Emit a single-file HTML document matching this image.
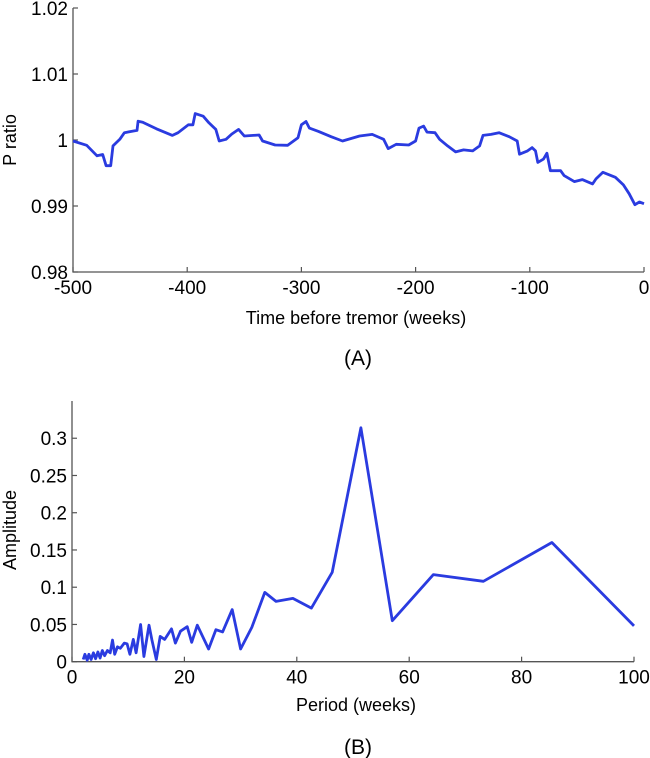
<!DOCTYPE html>
<html><head><meta charset="utf-8"><style>
body{margin:0;background:#fff;}
svg{display:block;font-family:"Liberation Sans",Arial,sans-serif;}
</style></head><body>
<svg id="fig" width="650" height="758" viewBox="0 0 650 758">
<g id="chartA"></g>
<g id="chartB"></g>
<text x="356" y="324" font-size="18" text-anchor="middle">Time before tremor (weeks)</text>
<text x="358" y="365" font-size="21" text-anchor="middle">(A)</text>
<text transform="translate(16,140) rotate(-90)" font-size="18" text-anchor="middle">P ratio</text>
<text x="356" y="711" font-size="18" text-anchor="middle">Period (weeks)</text>
<text x="358" y="754" font-size="21" text-anchor="middle">(B)</text>
<text transform="translate(16,530) rotate(-90)" font-size="18" text-anchor="middle">Amplitude</text>
</svg>
<script>
const weeksA=[-500,-488,-479,-474,-471,-467,-465,-459,-455,-444,-443,-439,-427,-413,-408,-399,-395,-393,-386,-381,-375,-372,-366,-361,-355,-350,-337,-334,-323,-312,-303,-300,-296,-293,-285,-274,-264,-249,-238,-228,-224,-217,-206,-200,-197,-193,-190,-183,-179,-172,-165,-158,-150,-144,-141,-134,-127,-118,-111,-109,-102,-98,-95,-93,-88,-85,-82,-73,-70,-61,-54,-45,-42,-36,-25,-18,-13,-8,-4,0];
const ratioA=[0.99985,0.9992,0.9976,0.9978,0.9961,0.9961,0.9991,1.0001,1.0011,1.00145,1.00285,1.0027,1.0017,1.0007,1.0011,1.0023,1.0023,1.0040,1.0036,1.0026,1.0016,0.99985,1.0001,1.0009,1.0016,1.0006,1.00075,0.99985,0.99925,0.9992,1.00035,1.0023,1.0028,1.0018,1.0013,1.0005,0.99985,1.0006,1.00085,1.0001,0.9987,0.99935,0.99925,0.99985,1.0018,1.0021,1.0012,1.0011,1.0001,0.9991,0.9982,0.9985,0.99835,0.9991,1.0007,1.00085,1.0011,1.0005,0.99985,0.99785,0.99835,0.99885,0.99835,0.9966,0.9971,0.998,0.99535,0.99535,0.9946,0.9937,0.9940,0.99335,0.9941,0.9951,0.99435,0.9932,0.99185,0.9902,0.9906,0.99035];
const xTicksA=[-500,-400,-300,-200,-100,0];
const yTicksA=[0.98,0.99,1,1.01,1.02];
const yTickLabelsA=["0.98","0.99","1","1.01","1.02"];

const periodB=[2,2.3,2.7,3,3.4,3.8,4.2,4.6,5,5.4,5.8,6.3,6.8,7.2,7.6,8.1,8.6,9.3,9.8,10.3,10.9,11.4,12.2,12.8,13.7,14.2,15,15.7,16.5,17.7,18.4,19.3,20.5,21.3,22.3,24.3,25.6,26.8,28.5,30,32,34.3,36.3,39.3,42.6,46.3,51.4,57,64.3,73.2,85.4,100];
const ampB=[0.003,0.01,0.002,0.01,0.003,0.012,0.004,0.013,0.005,0.015,0.008,0.015,0.012,0.029,0.01,0.02,0.018,0.025,0.024,0.01,0.03,0.012,0.05,0.007,0.049,0.03,0.003,0.034,0.03,0.044,0.025,0.041,0.047,0.026,0.049,0.017,0.043,0.04,0.07,0.017,0.046,0.093,0.081,0.085,0.072,0.12,0.314,0.055,0.117,0.108,0.16,0.048];
const xTicksB=[0,20,40,60,80,100];
const yTicksB=[0,0.05,0.1,0.15,0.2,0.25,0.3];
const yTickLabelsB=["0","0.05","0.1","0.15","0.2","0.25","0.3"];

const NS="http://www.w3.org/2000/svg";
function mk(tag,attrs,parent){const e=document.createElementNS(NS,tag);for(const k in attrs)e.setAttribute(k,attrs[k]);parent.appendChild(e);return e;}

function draw(g,o){
  const sx=v=>o.x0+(v-o.xmin)/(o.xmax-o.xmin)*(o.x1-o.x0);
  const sy=v=>o.y0-(v-o.ymin)/(o.ymax-o.ymin)*(o.y0-o.y1);
  const ax=mk('path',{d:`M${o.x0},${o.y1}V${o.y0}H${o.x1}`,stroke:'#555',fill:'none','stroke-width':1.3},g);
  
  
  o.xt.forEach(t=>{
    const x=sx(t);
    const tk=mk('line',{x1:x,x2:x,y1:o.y0,y2:o.y0-5,stroke:'#555','stroke-width':1.2},g);
    
    
    const tl=mk('text',{x:x,y:o.y0+22,'font-size':19,'text-anchor':'middle'},g);
    tl.textContent=String(t);
    
    
  });
  o.yt.forEach((t,i)=>{
    const y=sy(t);
    const tk=mk('line',{x1:o.x0,x2:o.x0+5,y1:y,y2:y,stroke:'#555','stroke-width':1.2},g);
    
    
    const tl=mk('text',{x:o.x0-5,y:y+7,'font-size':19,'text-anchor':'end'},g);
    tl.textContent=o.yl[i];
    
    
  });
  const d=o.xs.map((v,i)=>(i?'L':'M')+sx(v).toFixed(1)+','+sy(o.ys[i]).toFixed(1)).join('');
  const p=mk('path',{d:d,stroke:'#2a3be0',fill:'none','stroke-width':2.8,'stroke-linejoin':'round'},g);
  
  
}
draw(document.getElementById('chartA'),{x0:73,x1:644,y0:272,y1:8,xmin:-500,xmax:0,ymin:0.98,ymax:1.02,xt:xTicksA,yt:yTicksA,yl:yTickLabelsA,xs:weeksA,ys:ratioA});
draw(document.getElementById('chartB'),{x0:72,x1:634,y0:661.7,y1:401,xmin:0,xmax:100,ymin:0,ymax:0.35,xt:xTicksB,yt:yTicksB,yl:yTickLabelsB,xs:periodB,ys:ampB});
</script>
</body></html>
